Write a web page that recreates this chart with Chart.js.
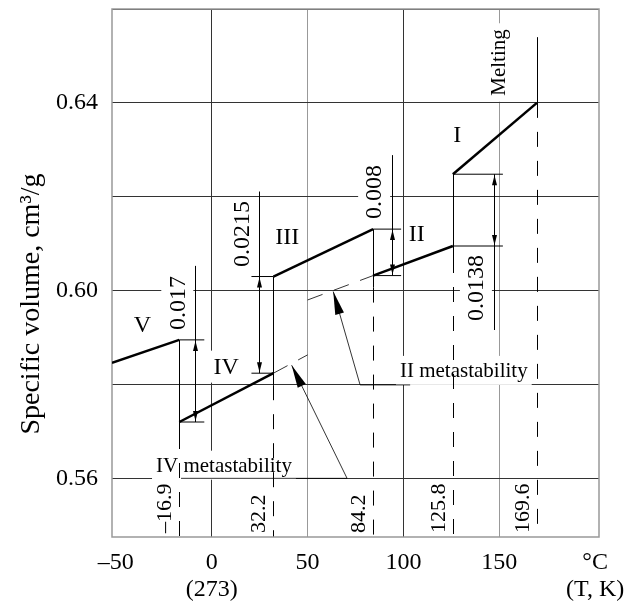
<!DOCTYPE html>
<html>
<head>
<meta charset="utf-8">
<script src="https://cdn.jsdelivr.net/npm/chart.js@4.4.0/dist/chart.umd.min.js"></script>
<style>
  html, body { margin: 0; padding: 0; background: #fff; }
</style>
</head>
<body>
<canvas id="volumeChart" width="625" height="602"></canvas>
<script>
const SERIF = '"Liberation Serif", "Times New Roman", serif';

const xTicks = [-50, 0, 50, 100, 150, 200];
const xTickLabels = ['\u201350', ['0', '(273)'], '50', '100', '150', ['\u00b0C', '(T, K)']];
const yTicks = [0.56, 0.58, 0.60, 0.62, 0.64, 0.66];
const yTickLabels = ['0.56', '', '0.60', '', '0.64', ''];
const yTitle = 'Specific volume, cm\u00b3/g';

// stable branches of each phase: temperature span (°C) and specific volume at its ends
const phaseNames = ['V', 'IV', 'III', 'II', 'I'];
const phaseT = [[-52, -16.9], [-16.9, 32.2], [32.2, 84.2], [84.2, 125.8], [125.8, 169.6]];
const phaseV = [[0.5846, 0.5895], [0.5720, 0.5824], [0.6030, 0.6131], [0.6032, 0.6095], [0.6248, 0.6400]];

// metastable continuations (thin dashed)
const metaNames = ['IV metastability', 'II metastability'];
const metaT = [[32.2, 50], [50, 84.2]];
const metaV = [[0.5824, 0.5863], [0.5980, 0.6032]];

const transitionT = [-16.9, 32.2, 84.2, 125.8, 169.6];
const transitionLabels = ['\u201316.9', '32.2', '84.2', '125.8', '169.6'];
const jumpLabels = ['0.017', '0.0215', '0.008', '0.0138'];
const meltingTop = 0.654;

// where the labels sit, in chart units
const phaseLabelAt = [[-36.2, 0.5927], [7.5, 0.5838], [39.4, 0.6115], [107, 0.6122], [128.1, 0.6332]];
const metaLabelAt = [[6.4, 0.5628], [98.2, 0.5830]];
const metaLeaders = [
  [[-16, 0.56], [70.6, 0.56], [41.7, 0.5841]],
  [[103.5, 0.5799], [77.4, 0.5799], [63.4, 0.5998]],
];
const meltingLabelAt = [149.5, 0.6486];

// dimension marks of the volume jumps (pixels)
const jumpLayout = [
  { side: 1, dim: 16, ext: 25, lead: -74 },
  { side: -1, dim: 14, ext: 22, lead: -85 },
  { side: 1, dim: 19, ext: 28, lead: -74 },
  { side: 1, dim: 41, ext: 50, lead: 84 },
];

function jumpEnds(i) {
  if (i >= jumpLabels.length) return [meltingTop, phaseV[i][1]];
  const a = phaseV[i][1];
  const b = phaseV[i + 1][0];
  return [Math.max(a, b), Math.min(a, b)];
}

function line(ctx, x1, y1, x2, y2) {
  ctx.beginPath();
  ctx.moveTo(x1, y1);
  ctx.lineTo(x2, y2);
  ctx.stroke();
}

function arrowHead(ctx, fromX, fromY, tipX, tipY, len, half) {
  const a = Math.atan2(tipY - fromY, tipX - fromX);
  ctx.save();
  ctx.translate(tipX, tipY);
  ctx.rotate(a);
  ctx.beginPath();
  ctx.moveTo(0, 0);
  ctx.lineTo(-len, -half);
  ctx.lineTo(-len, half);
  ctx.closePath();
  ctx.fill();
  ctx.restore();
}

function boxedText(ctx, text, x, y, opts) {
  const size = opts.size || 22;
  const pad = opts.pad === undefined ? 4 : opts.pad;
  ctx.save();
  ctx.translate(x, y);
  if (opts.rotate) ctx.rotate(-Math.PI / 2);
  ctx.font = `${size}px ${SERIF}`;
  const w = ctx.measureText(text).width;
  const x0 = opts.align === 'left' ? 0 : -w / 2;
  if (!opts.noBox) {
    ctx.fillStyle = '#fff';
    ctx.fillRect(x0 - pad, -size / 2 - pad, w + 2 * pad, size + 2 * pad);
  }
  ctx.fillStyle = '#000';
  ctx.textAlign = 'left';
  ctx.textBaseline = 'middle';
  ctx.fillText(text, x0, 1);
  ctx.restore();
}

const annotations = {
  id: 'annotations',
  beforeDatasetsDraw(chart) {
    const { ctx, chartArea: area } = chart;
    const { x, y } = chart.scales;
    const px = (t) => x.getPixelForValue(t);
    const py = (v) => y.getPixelForValue(v);
    ctx.save();

    // texts on white patches (they hide the grid underneath)
    phaseNames.forEach((name, i) => {
      boxedText(ctx, name, px(phaseLabelAt[i][0]), py(phaseLabelAt[i][1]), { size: 24 });
    });
    boxedText(ctx, metaNames[0], px(metaLabelAt[0][0]), py(metaLabelAt[0][1]), { size: 21 });
    boxedText(ctx, metaNames[1], px(metaLabelAt[1][0]), py(metaLabelAt[1][1]), { size: 21, align: 'left' });
    boxedText(ctx, 'Melting', px(meltingLabelAt[0]), py(meltingLabelAt[1]), { size: 21, rotate: true, pad: 6 });
    transitionT.forEach((t, i) => {
      boxedText(ctx, transitionLabels[i], px(t) - 15, area.bottom - 4, { size: 22, rotate: true, align: 'left', pad: 3 });
    });
    jumpLabels.forEach((label, i) => {
      const L = jumpLayout[i];
      const [hi, lo] = jumpEnds(i);
      const xd = px(transitionT[i]) + L.side * L.dim;
      const ty = L.lead < 0 ? py(hi) + L.lead / 2 : py(lo) + L.lead / 2;
      boxedText(ctx, label, xd - 18, ty, { size: 24, rotate: true });
    });

    ctx.strokeStyle = '#000';
    ctx.fillStyle = '#000';
    ctx.lineWidth = 1;

    // transition verticals: solid across the jump, dashed down to the axis
    transitionT.forEach((t, i) => {
      const [hi, lo] = jumpEnds(i);
      const xp = Math.round(px(t)) + 0.5;
      const yLo = py(lo) + (i < jumpLabels.length ? 12 : 0);
      line(ctx, xp, py(hi), xp, yLo);
      ctx.setLineDash([15, 14]);
      line(ctx, xp, yLo, xp, area.bottom);
      ctx.setLineDash([]);
    });

    // dimension lines of the jumps
    jumpLabels.forEach((label, i) => {
      const L = jumpLayout[i];
      const [hi, lo] = jumpEnds(i);
      const xt = px(transitionT[i]);
      const yHi = py(hi);
      const yLo = py(lo);
      const xd = Math.round(xt + L.side * L.dim) + 0.5;
      line(ctx, xt, yHi, xt + L.side * L.ext, yHi);
      line(ctx, xt, yLo, xt + L.side * L.ext, yLo);
      const yA = L.lead < 0 ? yHi + L.lead : yHi;
      const yB = L.lead < 0 ? yLo : yLo + L.lead;
      line(ctx, xd, yA, xd, yB);
      arrowHead(ctx, xd, yHi + 10, xd, yHi + 1, 10, 2.5);
      arrowHead(ctx, xd, yLo - 10, xd, yLo - 1, 10, 2.5);
    });

    // leaders to the metastable branches
    ctx.lineWidth = 0.8;
    metaLeaders.forEach((pts) => {
      ctx.beginPath();
      pts.forEach(([t, v], k) => (k ? ctx.lineTo(px(t), py(v)) : ctx.moveTo(px(t), py(v))));
      ctx.stroke();
      const [t1, v1] = pts[pts.length - 2];
      const [t2, v2] = pts[pts.length - 1];
      arrowHead(ctx, px(t1), py(v1), px(t2), py(v2), 23, 4.5);
    });

    // frame
    ctx.strokeStyle = '#999';
    ctx.lineWidth = 1.5;
    ctx.strokeRect(area.left, area.top, area.right - area.left, area.bottom - area.top);

    // axis title, a little below the middle of the plot as in the original
    boxedText(ctx, yTitle, 31, (area.top + area.bottom) / 2 + 31, { size: 28, rotate: true, noBox: true });
    ctx.restore();
  },
};

const datasets = phaseNames.map((name, i) => ({
  label: name,
  data: phaseT[i].map((t, j) => ({ x: t, y: phaseV[i][j] })),
  borderColor: '#000',
  borderWidth: 2.5,
  pointRadius: 0,
}));
metaNames.forEach((name, i) => {
  datasets.push({
    label: name,
    data: metaT[i].map((t, j) => ({ x: t, y: metaV[i][j] })),
    borderColor: '#000',
    borderWidth: 0.8,
    borderDash: [16, 12],
    pointRadius: 0,
  });
});

const gridX = (c) => {
  const v = c.tick && c.tick.value;
  if (v === -50 || v === 200) return 'rgba(0,0,0,0)';
  return v === 50 || v === 150 ? '#999' : '#333';
};

new Chart(document.getElementById('volumeChart'), {
  type: 'line',
  data: { datasets },
  options: {
    responsive: false,
    animation: false,
    devicePixelRatio: 1,
    layout: { padding: { top: 9, right: 26, left: 0, bottom: 0 } },
    plugins: { legend: { display: false }, tooltip: { enabled: false } },
    scales: {
      x: {
        type: 'linear',
        min: -52,
        max: 202,
        afterBuildTicks(scale) { scale.ticks = xTicks.map((value) => ({ value })); },
        afterFit(scale) {
          scale.height = 65;
          scale.paddingLeft = 0;
          scale.paddingRight = 0;
        },
        border: { display: false },
        grid: { color: gridX, lineWidth: 1, drawTicks: false },
        ticks: {
          autoSkip: false,
          maxRotation: 0,
          padding: 13,
          color: '#000',
          font: { family: SERIF, size: 24, lineHeight: 1.1 },
          callback: (value, i) => xTickLabels[i],
        },
      },
      y: {
        min: 0.5475,
        max: 0.66,
        afterBuildTicks(scale) { scale.ticks = yTicks.map((value) => ({ value })); },
        afterFit(scale) {
          scale.width = 112;
          scale.paddingTop = 0;
          scale.paddingBottom = 0;
        },
        border: { display: false },
        grid: { color: '#333', lineWidth: 1, drawTicks: false },
        ticks: {
          padding: 14,
          color: '#000',
          font: { family: SERIF, size: 24 },
          callback: (value, i) => yTickLabels[i],
        },
      },
    },
  },
  plugins: [annotations],
});
</script>
</body>
</html>
